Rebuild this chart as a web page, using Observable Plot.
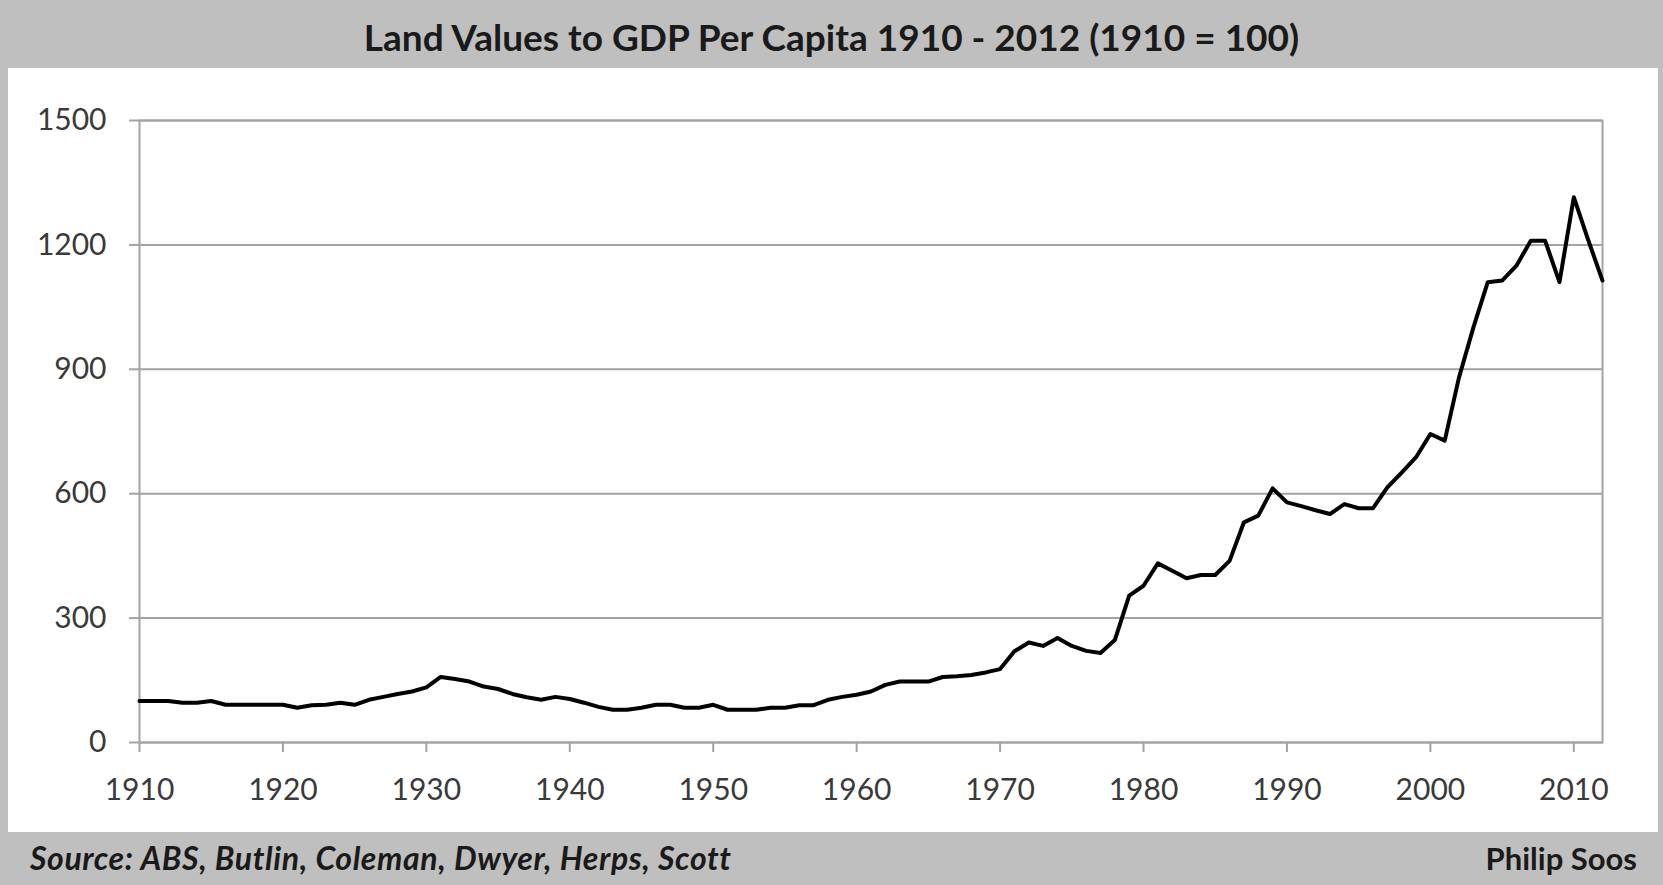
<!DOCTYPE html>
<html>
<head>
<meta charset="utf-8">
<script src="https://cdn.jsdelivr.net/npm/d3@7"></script>
<script src="https://cdn.jsdelivr.net/npm/@observablehq/plot@0.6"></script>
<style>
  html, body { margin: 0; padding: 0; background: #bfbfbf; }
  #page { position: relative; width: 1663px; height: 885px; background: #bfbfbf; overflow: hidden; font-family: Lato, "Open Sans", sans-serif; }
  #title { position: absolute; left: 0; top: 0; width: 1663px; height: 74px; line-height: 74px; text-align: center; font-weight: bold; font-size: 37px; color: #1a1a1a; white-space: nowrap; }
  #panel { position: absolute; left: 8px; top: 68px; width: 1650px; height: 764px; background: #ffffff; }
  #source { position: absolute; left: 30px; top: 836px; height: 44px; line-height: 44px; font-weight: bold; font-style: italic; font-size: 32px; letter-spacing: 0.6px; color: #1a1a1a; white-space: nowrap; }
  #author { position: absolute; right: 26px; top: 836px; height: 44px; line-height: 44px; font-weight: bold; font-size: 31px; color: #1a1a1a; white-space: nowrap; }
</style>
</head>
<body>
<div id="page">
  <div id="title">Land Values to GDP Per Capita 1910 - 2012 (1910 = 100)</div>
  <div id="panel"></div>
  <div id="source">Source: ABS, Butlin, Coleman, Dwyer, Herps, Scott</div>
  <div id="author">Philip Soos</div>
</div>
<script>
// Years (x categories)
const years = [
  1910,1911,1912,1913,1914,1915,1916,1917,1918,1919,
  1920,1921,1922,1923,1924,1925,1926,1927,1928,1929,
  1930,1931,1932,1933,1934,1935,1936,1937,1938,1939,
  1940,1941,1942,1943,1944,1945,1946,1947,1948,1949,
  1950,1951,1952,1953,1954,1955,1956,1957,1958,1959,
  1960,1961,1962,1963,1964,1965,1966,1967,1968,1969,
  1970,1971,1972,1973,1974,1975,1976,1977,1978,1979,
  1980,1981,1982,1983,1984,1985,1986,1987,1988,1989,
  1990,1991,1992,1993,1994,1995,1996,1997,1998,1999,
  2000,2001,2002,2003,2004,2005,2006,2007,2008,2009,
  2010,2011,2012
];
// Land values to GDP per capita index (1910 = 100)
const landToGdp = [
  100,100,100,96,96,100,91,91,91,91,
  91,84,90,91,96,91,103,110,117,123,
  133,158,153,147,135,129,117,109,103,110,
  105,96,86,79,79,84,91,91,84,84,
  91,79,79,79,84,84,90,90,103,110,
  115,123,139,147,147,147,158,160,163,169,
  177,220,241,233,252,233,221,216,247,354,
  378,432,414,396,404,404,438,531,547,613,
  579,570,560,551,575,565,565,615,651,688,
  744,728,881,1001,1110,1114,1150,1210,1210,1110,
  1315,1212,1114
];
// Tick labels
const xTicks = [1910,1920,1930,1940,1950,1960,1970,1980,1990,2000,2010];
const yTicks = [0,300,600,900,1200,1500];

const data = years.map((year, i) => ({year, value: landToGdp[i]}));

const gridColor = "#a3a3a3";
const labelColor = "#3a3a3a";

const chart = Plot.plot({
  width: 1650,
  height: 764,
  marginLeft: 131,
  marginRight: 56,
  marginTop: 52,
  marginBottom: 90,
  style: { background: "transparent", fontFamily: "Lato, 'Open Sans', sans-serif" },
  x: { domain: [1910, 2012] },
  y: { domain: [0, 1500] },
  marks: [
    Plot.ruleY(yTicks, { stroke: gridColor, strokeWidth: 2 }),
    Plot.frame({ stroke: gridColor, strokeWidth: 2 }),
    Plot.axisX({ ticks: xTicks, tickFormat: d => String(d), tickSize: 10, tickPadding: 26,
                 stroke: gridColor, strokeWidth: 2, fill: labelColor, fontSize: 30, label: null }),
    Plot.axisY({ ticks: yTicks, tickFormat: d => String(d), tickSize: 10, tickPadding: 23,
                 stroke: gridColor, strokeWidth: 2, fill: labelColor, fontSize: 30, label: null }),
    Plot.line(data, { x: "year", y: "value", stroke: "#000", strokeWidth: 4, strokeLinejoin: "round" })
  ]
});
document.getElementById("panel").appendChild(chart);
</script>
</body>
</html>
